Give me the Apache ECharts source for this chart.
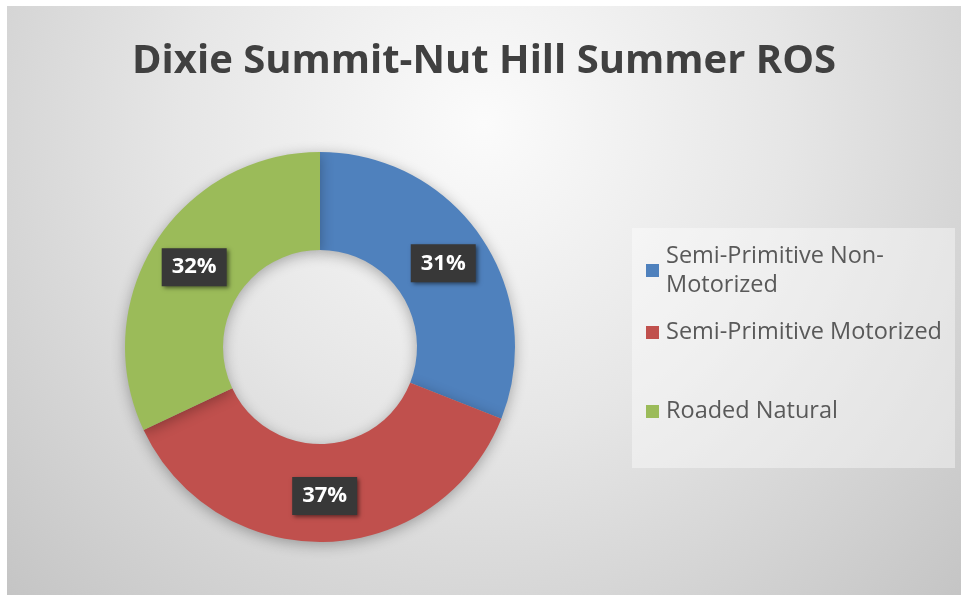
<!DOCTYPE html>
<html>
<head>
<meta charset="utf-8">
<script src="https://cdn.jsdelivr.net/npm/echarts@6/dist/echarts.min.js"></script>
<style>
  html, body { margin: 0; padding: 0; background: #ffffff; }
  #chart { position: absolute; left: 7px; top: 6px; width: 954px; height: 589px; }
</style>
</head>
<body>
<div id="chart"></div>
<script>
// Recreation Opportunity Spectrum shares for the summer season
const titleText = 'Dixie Summit-Nut Hill Summer ROS';
const categories = ['Semi-Primitive Non-Motorized', 'Semi-Primitive Motorized', 'Roaded Natural'];
const shares = [31, 37, 32];
const sliceColors = ['#4f81bd', '#c0504d', '#9bbb59'];

const chart = echarts.init(document.getElementById('chart'), null, { renderer: 'canvas' });

const legendFont = { fontFamily: 'Open Sans', fontSize: 23.5, color: '#595959' };
const legendTops = [216, 307, 386];

// The two-line entry keeps its marker level with the first line
function entryPadding(name) {
  return name.indexOf('Non-Motorized') >= 0 ? [29, 0, 0, 2] : [0, 0, 0, 2];
}

const legends = categories.map((name, i) => ({
  data: [name],
  orient: 'vertical',
  left: 634,
  top: legendTops[i],
  icon: 'rect',
  itemWidth: 13,
  itemHeight: 13,
  itemGap: 0,
  selectedMode: false,
  formatter: (n) => n.replace('Non-Motorized', 'Non-\nMotorized'),
  textStyle: Object.assign({ lineHeight: 29, padding: entryPadding(name) }, legendFont)
}));

chart.setOption({
  backgroundColor: {
    type: 'radial', x: 0.5, y: 0.2, r: 1.15,
    colorStops: [
      { offset: 0, color: '#fbfbfb' },
      { offset: 0.45, color: '#e6e6e6' },
      { offset: 1, color: '#c4c4c4' }
    ]
  },
  title: {
    text: titleText,
    left: 'center',
    top: 31,
    textStyle: { fontFamily: 'Open Sans', fontWeight: 'bold', fontSize: 40, color: '#404040' }
  },
  graphic: [{
    type: 'rect',
    shape: { x: 625, y: 222, width: 323, height: 240 },
    style: { fill: 'rgba(255,255,255,0.4)' },
    z: 0
  }],
  legend: legends,
  series: [{
    type: 'pie',
    center: [313, 341],
    radius: [97, 195],
    startAngle: 90,
    clockwise: true,
    avoidLabelOverlap: false,
    itemStyle: {
      shadowBlur: 14,
      shadowColor: 'rgba(0,0,0,0.3)',
      shadowOffsetY: 3
    },
    label: {
      show: true,
      position: 'inside',
      formatter: (p) => p.value + '%',
      color: '#ffffff',
      fontFamily: 'Open Sans',
      fontWeight: 'bold',
      fontSize: 22,
      backgroundColor: '#383838',
      padding: [9, 10, 7, 10],
      shadowBlur: 4,
      shadowColor: 'rgba(0,0,0,0.5)',
      shadowOffsetX: 2,
      shadowOffsetY: 2
    },
    labelLine: { show: false },
    emphasis: { disabled: true },
    data: categories.map((name, i) => ({
      name: name,
      value: shares[i],
      itemStyle: { color: sliceColors[i] }
    }))
  }]
});
</script>
</body>
</html>
